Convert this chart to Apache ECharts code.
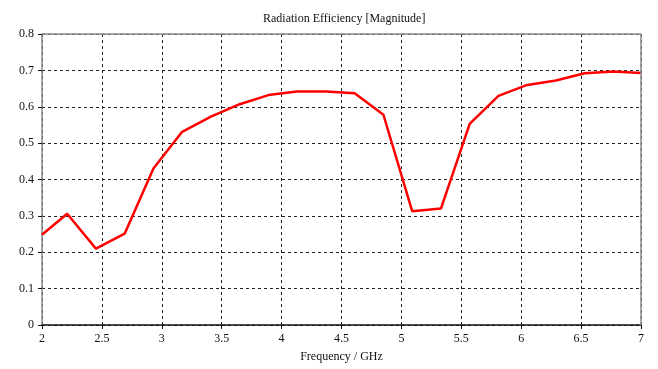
<!DOCTYPE html>
<html>
<head>
<meta charset="utf-8">
<script src="https://cdn.jsdelivr.net/npm/echarts@6/dist/echarts.min.js"></script>
<style>
  html, body { margin: 0; padding: 0; background: #fff; }
  #chart { width: 658px; height: 369px; }
</style>
</head>
<body>
<div id="chart"></div>
<script>
// frequency samples (GHz)
var freq = [2, 2.21, 2.45, 2.69, 2.93, 3.17, 3.41, 3.65, 3.89, 4.13, 4.37,
            4.61, 4.85, 5.09, 5.33, 5.57, 5.81, 6.05, 6.29, 6.53, 6.77, 7];
// radiation efficiency magnitude
var efficiency = [0.248, 0.306, 0.21, 0.251, 0.43, 0.531, 0.573, 0.607, 0.632, 0.642, 0.642,
                  0.637, 0.578, 0.313, 0.32, 0.553, 0.63, 0.66, 0.672, 0.692, 0.697, 0.693];
var xTicks = [2, 2.5, 3, 3.5, 4, 4.5, 5, 5.5, 6, 6.5, 7];
var yTicks = [0, 0.1, 0.2, 0.3, 0.4, 0.5, 0.6, 0.7, 0.8];

var points = [];
for (var i = 0; i < freq.length; i++) {
  points.push([freq[i], efficiency[i]]);
}

var font = "'Liberation Serif', 'Times New Roman', serif";
var chart = echarts.init(document.getElementById("chart"));
chart.setOption({
  animation: false,
  textStyle: { fontFamily: font },
  title: {
    text: "Radiation Efficiency [Magnitude]",
    left: 258,
    top: 8,
    textStyle: { fontFamily: font, fontSize: 12, fontWeight: "normal", color: "#111" }
  },
  grid: { left: 42, right: 17, top: 34, bottom: 44 },
  xAxis: {
    type: "value",
    min: 2,
    max: 7,
    interval: 0.5,
    name: "Frequency / GHz",
    nameLocation: "middle",
    nameGap: 26,
    nameTextStyle: { fontFamily: font, fontSize: 12, color: "#111" },
    axisLine: { lineStyle: { color: "#111", width: 1.5 } },
    axisTick: { show: true, length: 4, lineStyle: { color: "#111" } },
    axisLabel: {
      fontFamily: font, fontSize: 12, color: "#111", margin: 8,
      formatter: function (v) { return xTicks.indexOf(v) >= 0 ? String(v) : ""; }
    },
    splitLine: { show: true, lineStyle: { color: "#222", type: [3, 3], width: 1 } }
  },
  yAxis: {
    type: "value",
    min: 0,
    max: 0.8,
    interval: 0.1,
    axisLine: { show: true, lineStyle: { color: "#888", width: 1.5 } },
    axisTick: { show: true, length: 4, lineStyle: { color: "#111" } },
    axisLabel: {
      fontFamily: font, fontSize: 12, color: "#111", margin: 8,
      formatter: function (v) {
        var r = Math.round(v * 10) / 10;
        return yTicks.indexOf(r) >= 0 ? String(r) : "";
      }
    },
    splitLine: { show: true, lineStyle: { color: "#222", type: [3, 3], width: 1 } }
  },
  series: [
    {
      type: "line",
      data: points,
      symbol: "none",
      lineStyle: { color: "#ff0000", width: 2.5 },
      z: 3
    },
    {
      // frame on top and right side of plot
      type: "line",
      data: [],
      markLine: {
        silent: true,
        symbol: "none",
        label: { show: false },
        lineStyle: { color: "#888", type: "solid", width: 1.5 },
        data: [{ yAxis: 0.8 }, { xAxis: 7 }]
      }
    }
  ]
});
</script>
</body>
</html>
